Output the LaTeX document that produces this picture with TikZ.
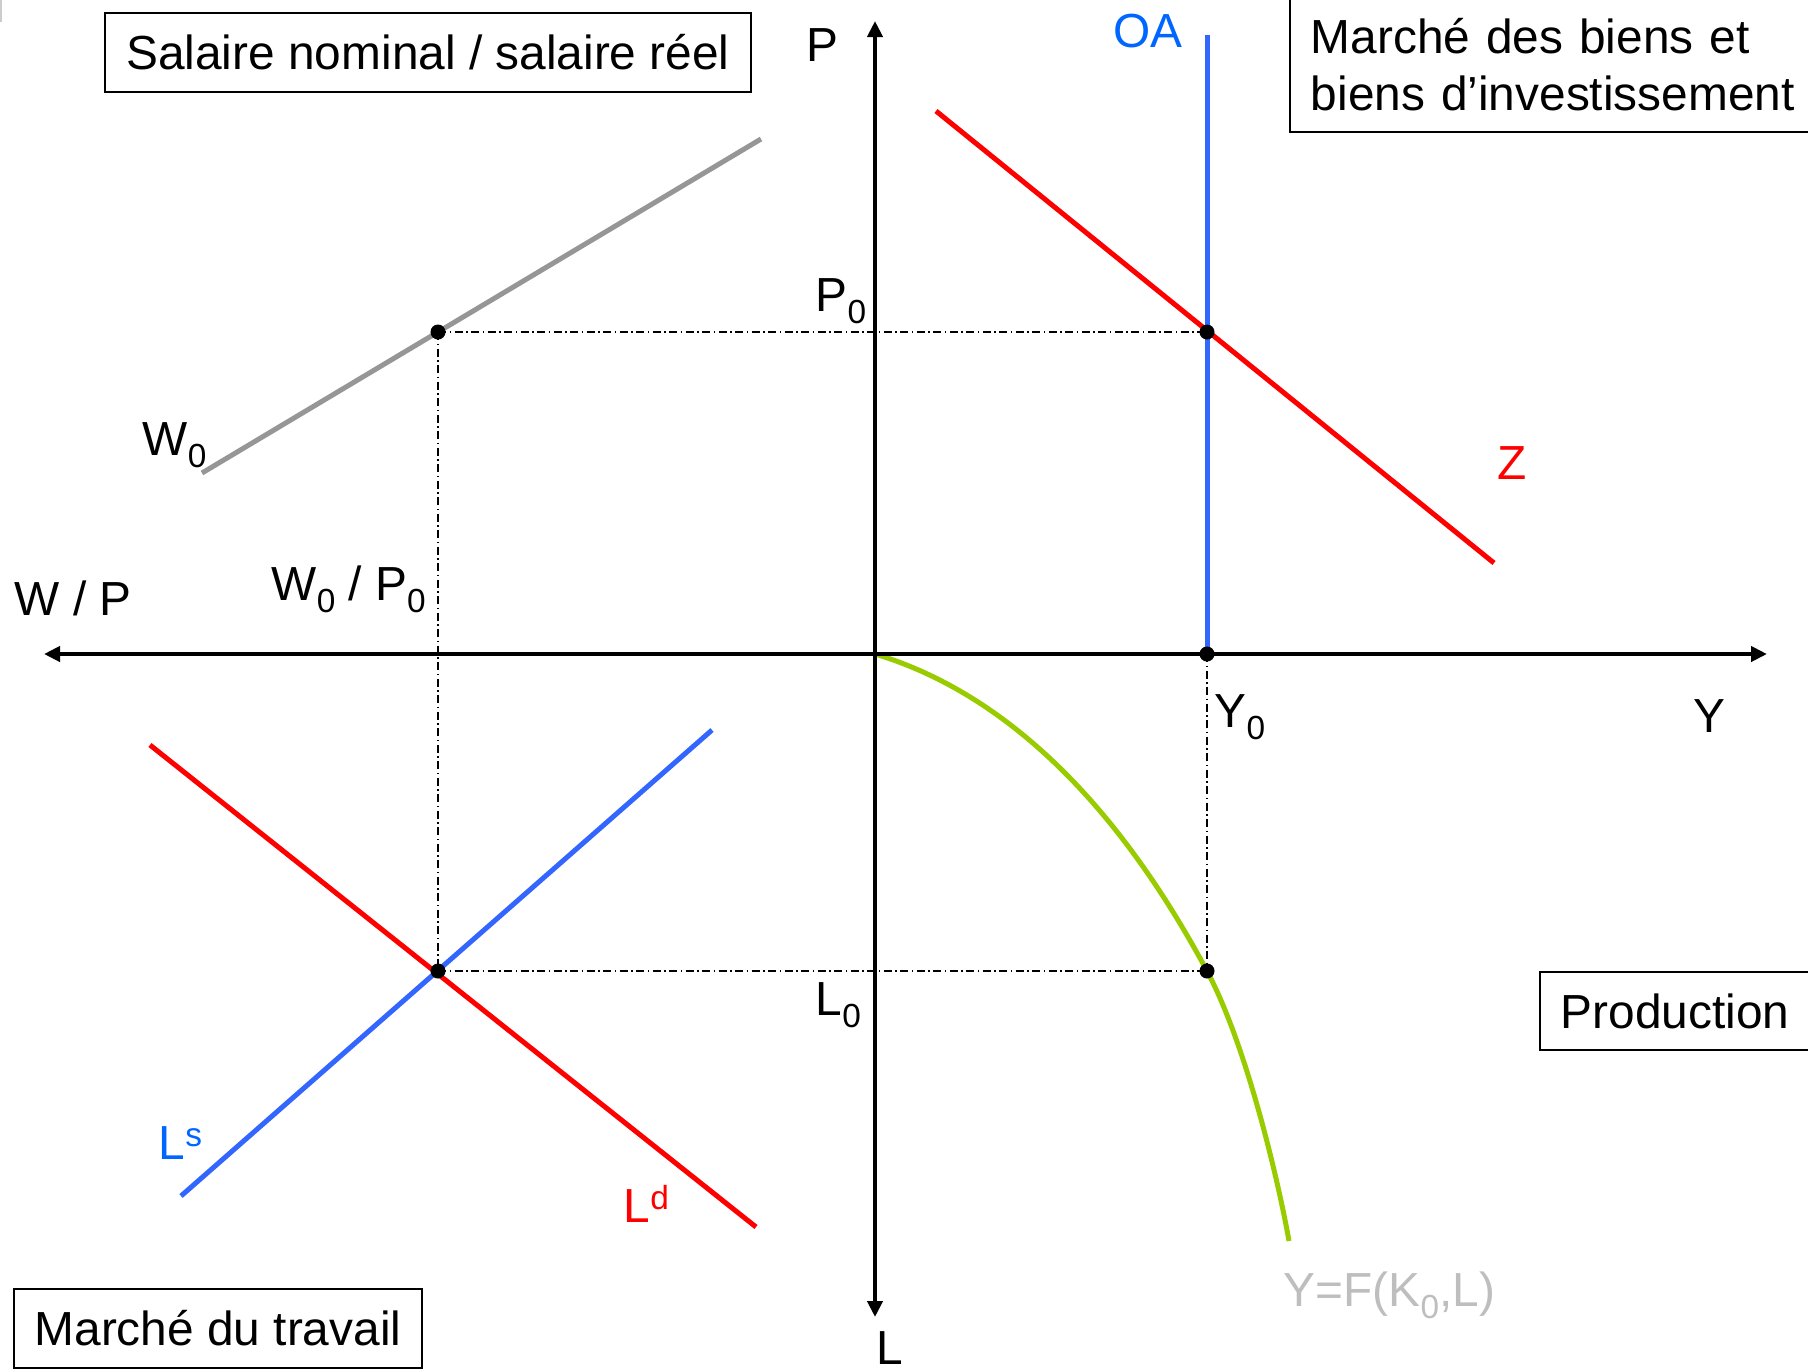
\documentclass[tikz,border=0pt]{standalone}
\usepackage{fontspec}
\setmainfont{Liberation Sans}
\usepackage{tikz}
\usetikzlibrary{arrows.meta}
\definecolor{demand}{RGB}{255,0,0}
\definecolor{supply}{RGB}{51,102,255}
\definecolor{supplytxt}{RGB}{0,102,255}
\definecolor{prodgreen}{RGB}{153,204,0}
\definecolor{wage}{RGB}{150,150,150}
\definecolor{faded}{RGB}{190,190,190}
\newcommand\lowidx[1]{\raisebox{-0.12cm}{\fontsize{9.5}{9.5}\selectfont #1}}
\newcommand\highidx[1]{\raisebox{0.13cm}{\fontsize{9.5}{9.5}\selectfont #1}}

\begin{document}
\begin{tikzpicture}[x=0.01cm, y=-0.01cm,
  font=\fontsize{13.6}{16.2}\selectfont,
  ax/.style={line width=0.048cm, >={Triangle[length=0.16cm,width=0.15cm]}, <->},
  curve/.style={line width=0.05cm},
  guide/.style={line width=0.014cm, dash pattern=on 0.08cm off 0.035cm on 0.015cm off 0.035cm},
  box/.style={draw, line width=0.018cm, inner sep=0pt},
  lbl/.style={anchor=base west, inner sep=0pt}
]
\useasboundingbox (0,0) rectangle (1808,1369);
\draw[gray!40, line width=0.015cm] (1,0) -- (1,22);

% the four boxes
\node[box, minimum width=6.46cm, minimum height=0.79cm] (salaire) at (428,52.5) {Salaire nominal / salaire réel};
\node[box, align=left, anchor=south west, inner xsep=0.21cm, inner ysep=0.21cm, text width=5.0cm] (biens) at (1289,133) {Marché des biens et\\biens d’investissement};
\node[box, minimum width=2.7cm, minimum height=0.78cm] (prod) at (1675,1011) {Production};
\node[box, minimum width=4.08cm, minimum height=0.79cm] (travail) at (218,1328.5) {Marché du travail};

% equilibrium points
\coordinate (O) at (875,654);
\coordinate (eqW) at (438,332);
\coordinate (eqP) at (1207,332);
\coordinate (eqY) at (1207,654);
\coordinate (eqL) at (438,971);
\coordinate (eqF) at (1207,971);
\coordinate (fEnd) at (1289,1241);

\draw[guide] (eqW) -- (eqP);
\draw[guide] (eqW) -- (eqL);
\draw[guide] (eqL) -- (eqF);
\draw[guide] (eqY) -- (eqF);

% curves
\draw[curve, wage] (202,473) -- (761,139);
\draw[curve, demand] (936,111) -- (1494,563);
\draw[curve, supply] (1207,35) -- (eqY);
\draw[curve, supply] (181,1196) -- (712,730);
\draw[curve, demand] (150,745) -- (756,1227);
\draw[curve, prodgreen] (O) .. controls (1005,693) and (1117,803) .. (eqF)
  .. controls (1247,1046) and (1279,1184) .. (fEnd);

% axes
\coordinate (wpEnd) at (44,654);
\coordinate (yEnd) at (1767,654);
\coordinate (pEnd) at (875,21);
\coordinate (lEnd) at (875,1317);
\draw[ax] (wpEnd) -- (yEnd);
\draw[ax] (pEnd) -- (lEnd);

\foreach \p in {eqW,eqP,eqY,eqL,eqF} \fill (\p) circle (0.075cm);

% labels
\node[lbl] (pLab) at (806,61) {P};
\node[lbl, supplytxt] (oaLab) at (1113,47) {OA};
\node[lbl] (p0Lab) at (815,311) {P\lowidx{0}};
\node[lbl] (w0Lab) at (142,455) {W\lowidx{0}};
\node[lbl, demand] (zLab) at (1497,479) {Z};
\node[lbl] (wpLab) at (14,615) {W / P};
\node[lbl] (w0p0Lab) at (271,600) {W\lowidx{0} / P\lowidx{0}};
\node[lbl] (y0Lab) at (1214,727) {Y\lowidx{0}};
\node[lbl] (yLab) at (1693,732) {Y};
\node[lbl] (l0Lab) at (815,1015) {L\lowidx{0}};
\node[lbl, supplytxt] (lsLab) at (158,1159) {L\highidx{s}};
\node[lbl, demand] (ldLab) at (623,1222) {L\highidx{d}};
\node[lbl] (lLab) at (876,1364) {L};
\node[lbl, faded] (fLab) at (1283,1306) {Y=F(K\lowidx{0},L)};
\end{tikzpicture}
\end{document}
